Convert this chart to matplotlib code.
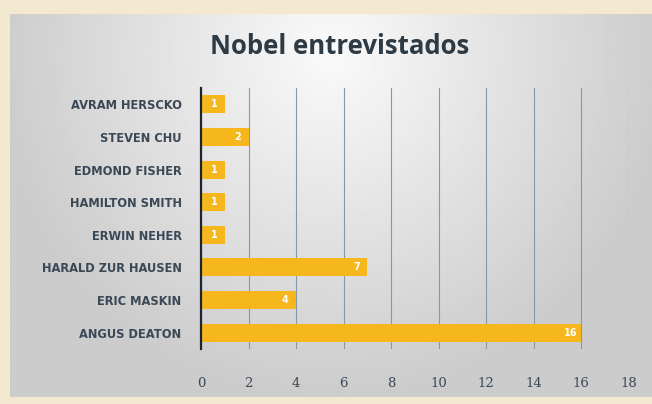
import matplotlib.pyplot as plt
import numpy as np

names = [
    "AVRAM HERSCKO",
    "STEVEN CHU",
    "EDMOND FISHER",
    "HAMILTON SMITH",
    "ERWIN NEHER",
    "HARALD ZUR HAUSEN",
    "ERIC MASKIN",
    "ANGUS DEATON",
]
counts = [1, 2, 1, 1, 1, 7, 4, 16]
xticks = [0, 2, 4, 6, 8, 10, 12, 14, 16, 18]

BEIGE = "#f3e8d0"
GOLD = "#f5b71b"
TEXT = "#3b4856"

fig = plt.figure(figsize=(6.52, 4.04), dpi=100, facecolor=BEIGE)

# gray panel, lighter towards the top centre
bg = fig.add_axes([10 / 652, 7 / 404, 642 / 652, 383 / 404])
bg.set_axis_off()
gx, gy = np.meshgrid(np.linspace(-1, 1, 400), np.linspace(-1, 1, 300))
r = np.sqrt((gx / 1.1) ** 2 + ((gy - 0.8) / 1.9) ** 2)
shade = np.clip(0.98 - 0.19 * r, 0.8, 0.98)
bg.imshow(shade, cmap="gray", vmin=0, vmax=1, aspect="auto",
          extent=[0, 1, 0, 1], origin="lower")
bg.set_xlim(0, 1)
bg.set_ylim(0, 1)

ax = fig.add_axes([201 / 652, 55 / 404, 427.5 / 652, 261 / 404])
ax.patch.set_alpha(0)

y = np.arange(len(names))
ax.barh(y, counts, height=0.55, color=GOLD, zorder=3)
for yi, v in zip(y, counts):
    ax.text(v - 0.45, yi, str(v), ha="center", va="center",
            color="white", fontsize=7, fontweight="bold", zorder=4)

ax.set_xlim(0, 18)
ax.set_ylim(len(names) - 0.5, -0.5)
ax.set_xticks(xticks)
ax.grid(axis="x", color="#8797a3", linewidth=0.8, zorder=1)
ax.tick_params(length=0)
ax.tick_params(axis="x", pad=20, labelsize=9.5, labelcolor=TEXT)
ax.tick_params(axis="y", pad=14, labelsize=8.3, labelcolor=TEXT)
for lbl in ax.get_xticklabels():
    lbl.set_family(["DejaVu Serif"])
ax.set_yticks(y)
ax.set_yticklabels(names, family=["DejaVu Sans"], fontweight="bold")

for side in ["top", "right", "bottom"]:
    ax.spines[side].set_visible(False)
ax.spines["left"].set_color("#1a2530")
ax.spines["left"].set_linewidth(1.6)
ax.spines["left"].set_zorder(5)

fig.text(340 / 652, 1 - 47 / 404, "Nobel entrevistados", ha="center",
         va="center", fontsize=18.5, fontweight="bold", color="#2e3a44",
         family=["Open Sans", "DejaVu Sans"])

fig.savefig("out.png", dpi=100, facecolor=BEIGE)
